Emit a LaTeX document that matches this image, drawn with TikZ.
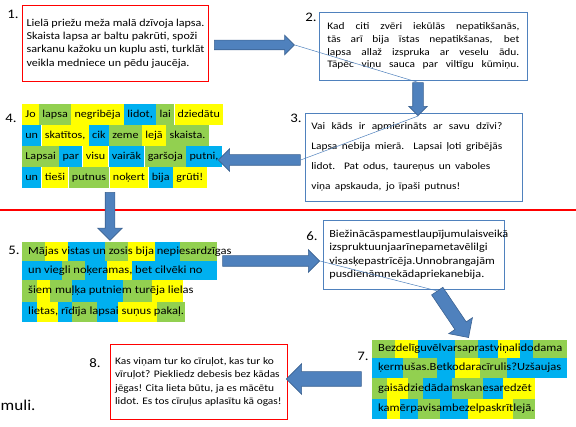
\documentclass[tikz,border=0pt]{standalone}
\usepackage{fontspec}
\setmainfont{Carlito}[FakeStretch=1.14]
\usetikzlibrary{positioning, shapes.arrows}
\definecolor{slideblue}{RGB}{79,129,189}
\definecolor{slidedark}{RGB}{60,98,145}
\definecolor{hlyellow}{RGB}{255,255,0}
\definecolor{hlgreen}{RGB}{146,208,80}
\definecolor{hlblue}{RGB}{0,176,240}
\tikzset{txtbox/.style={anchor=north west, align=left, fill=white, inner xsep=6pt, execute at begin node={\spaceskip=0pt\xspaceskip=0pt}, font=\fontsize{11}{13.3}\selectfont}}
\tikzset{redbox/.style={txtbox, draw=red, line width=1.1pt}}
\tikzset{bluebox/.style={txtbox, draw=slideblue, line width=0.7pt}}
\tikzset{blockarr/.style 2 args={single arrow, draw=slidedark, fill=slideblue, line width=0.6pt, inner xsep=0pt, inner ysep=#1, single arrow head extend=#2}}
\tikzset{thinarr/.style={draw=slideblue, line width=0.5pt}}
\tikzset{num/.style={inner sep=0pt, font=\fontsize{13}{13}\selectfont}}
\tikzset{word/.style={fill=#1, anchor=west, inner xsep=3.2pt, inner ysep=0pt, text height=7.5pt, text depth=2pt, minimum height=21.6pt, font=\fontsize{10.6}{11}\selectfont}}
\tikzset{rowtxt/.style={anchor=west, inner sep=0pt, text height=7.5pt, text depth=2pt, font=\fontsize{11}{11}\selectfont}}
\newcommand\spread[2]{\makebox[#1pt][s]{\spaceskip=0pt\xspaceskip=0pt #2}}

\begin{document}
\begin{tikzpicture}[x=1pt, y=-1pt]
	\useasboundingbox (0,0) rectangle (576,427);
	\draw[red, line width=1.2pt] (0,210) -- (576,210);

	\node[redbox, inner xsep=4pt, text width=178pt, minimum width=186, minimum height=76, font=\fontsize{10.6}{13.3}\selectfont] (b1) at (22,5)
		{Lielā priežu meža malā dzīvoja lapsa.\\ Skaista lapsa ar baltu pakrūti, spoži\\ sarkanu kažoku un kuplu asti, turklāt\\ veikla medniece un pēdu jaucēja.};
	\node[bluebox, inner xsep=8pt, text width=192pt, minimum height=68, font=\fontsize{10}{12.7}\selectfont] (b2) at (319,12)
		{\spread{192}{Kad citi zvēri iekūlās nepatikšanās,}\\ \spread{192}{tās arī bija īstas nepatikšanas, bet}\\
		 \spread{192}{lapsa allaž izspruka ar veselu ādu.}\\ \spread{192}{Tāpēc viņu sauca par viltīgu kūmiņu.}};
	\node[bluebox, text width=205pt, minimum height=88, font=\fontsize{10}{20}\selectfont] (b3) at (305,113)
		{\spread{191}{Vai kāds ir apmierināts ar savu dzīvi?}\\ \spread{191}{Lapsa nebija mierā. Lapsai ļoti gribējās}\\
		 \spread{179}{lidot. Pat odus, taureņus un vaboles}\\ \spread{149}{viņa apskauda, jo īpaši putnus!}};

	% box 4, one colour per word
	\node[word=hlyellow] (w) at (22,114.5) {Jo};
	\foreach \w/\c in {lapsa/hlgreen, negribēja/hlyellow, {lidot,}/hlblue, lai/hlgreen, dziedātu/hlyellow}
		\node[word=\c, right=0pt of w] (w) {\w};
	\node[word=hlblue] (w) at (22,135.5) {un};
	\foreach \w/\c in {{skatītos,}/hlyellow, cik/hlblue, zeme/hlgreen, lejā/hlyellow, skaista./hlgreen}
		\node[word=\c, right=0pt of w] (w) {\w};
	\node[word=hlgreen] (w) at (22,156.5) {Lapsai};
	\foreach \w/\c in {par/hlblue, visu/hlyellow, vairāk/hlblue, garšoja/hlgreen, {putni,}/hlblue}
		\node[word=\c, right=0pt of w] (w) {\w};
	\node[word=hlblue] (w) at (22,177.5) {un};
	\foreach \w/\c in {tieši/hlyellow, putnus/hlgreen, noķert/hlyellow, bija/hlblue, grūti!/hlyellow}
		\node[word=\c, right=0pt of w] (w) {\w};

	% box 5
	\foreach \xa/\xb/\c in {22/45/hlgreen, 45/68/hlyellow, 68/105/hlblue, 105/128/hlgreen, 128/155/hlyellow, 155/180/hlblue, 180/217/hlgreen}
		\fill[\c] (\xa,242) rectangle (\xb,261.3);
	\foreach \xa/\xb/\c in {22/62/hlblue, 62/85/hlgreen, 85/107/hlblue, 107/132/hlyellow, 132/217/hlblue}
		\fill[\c] (\xa,261) rectangle (\xb,280.3);
	\foreach \xa/\xb/\c in {22/37/hlgreen, 37/50/hlyellow, 50/72/hlgreen, 72/123/hlblue, 123/152/hlgreen, 152/183/hlyellow}
		\fill[\c] (\xa,280) rectangle (\xb,302.3);
	\foreach \xa/\xb/\c in {22/37/hlblue, 37/58/hlyellow, 58/72/hlblue, 72/97/hlgreen, 97/118/hlblue, 118/157/hlyellow, 157/185/hlgreen}
		\fill[\c] (\xa,302) rectangle (\xb,322);
	\node[rowtxt] (r51) at (28,251.5) {Mājas vistas un zosis bija nepiesardzīgas};
	\node[rowtxt] (r52) at (28,270.5) {un viegli noķeramas, bet cilvēki no};
	\node[rowtxt] (r53) at (28,291) {šiem muļķa putniem turēja lielas};
	\node[rowtxt] (r54) at (28,312) {lietas, rīdīja lapsai suņus pakaļ.};

	\node[bluebox, text width=169pt, minimum height=69, font=\fontsize{10.7}{13.5}\selectfont] (b6) at (323,220)
		{Biežinācāspamestlaupījumulaisveikā\\ izspruktuunjaarīnepametavēlilgi\\ visasķepastrīcēja.Unnobrangajām\\ pusdienāmnekādapriekanebija.};

	% box 7
	\foreach \xa/\xb/\c in {372/395/hlgreen, 395/418/hlyellow, 418/455/hlblue, 455/478/hlgreen, 478/498/hlblue, 498/520/hlyellow, 520/533/hlblue, 533/567/hlgreen}
		\fill[\c] (\xa,340) rectangle (\xb,358.3);
	\foreach \xa/\xb/\c in {372/403/hlblue, 403/437/hlgreen, 437/455/hlblue, 455/480/hlyellow, 480/507/hlgreen, 507/567/hlblue}
		\fill[\c] (\xa,358) rectangle (\xb,378.3);
	\foreach \xa/\xb/\c in {372/387/hlgreen, 387/408/hlyellow, 408/423/hlgreen, 423/452/hlblue, 452/483/hlgreen, 483/503/hlblue, 503/535/hlyellow}
		\fill[\c] (\xa,378) rectangle (\xb,399.3);
	\foreach \xa/\xb/\c in {372/387/hlblue, 387/400/hlyellow, 400/418/hlblue, 418/440/hlgreen, 440/468/hlblue, 468/513/hlyellow, 513/535/hlgreen}
		\fill[\c] (\xa,399) rectangle (\xb,419);
	\node[rowtxt] (r71) at (378,349) {Bezdelīguvēlvarsaprastviņalidodama};
	\node[rowtxt] (r72) at (378,368) {ķermušas.Betkodaracīrulis?Uzšaujas};
	\node[rowtxt] (r73) at (378,388.5) {gaisādziedādamskanesaredzēt};
	\node[rowtxt] (r74) at (378,409) {kamērpavisambezelpaskrītlejā.};

	\node[redbox, inner xsep=4.5pt, text width=168pt, minimum width=177, minimum height=75, font=\fontsize{10}{13.3}\selectfont] (b8) at (110,344)
		{Kas viņam tur ko cīruļot, kas tur ko\\ vīruļot? Piekliedz debesis bez kādas\\ jēgas! Cita lieta būtu, ja es mācētu\\ lidot. Es tos cīruļus aplasītu kā ogas!};

	\node[num] (n1) at (13,14) {1.};
	\node[num] (n2) at (311,17) {2.};
	\node[num] (n3) at (296,118) {3.};
	\node[num] (n4) at (11,118.5) {4.};
	\node[num] (n5) at (14,250) {5.};
	\node[num] (n6) at (312,236) {6.};
	\node[num] (n7) at (363,356) {7.};
	\node[num] (n8) at (95,363) {8.};
	\node[anchor=base west, inner sep=0pt, font=\fontsize{15}{15}\selectfont] (muli) at (0.5,411) {muli.};

	\node[blockarr={4.5pt}{5pt}, minimum height=80] (a12) at (252,45) {};
	\node[blockarr={5pt}{4pt}, minimum height=33, rotate=-90] (a23) at (418,96.5) {};
	\node[blockarr={5pt}{6pt}, minimum height=82, rotate=180] (a34) at (262,160) {};
	\node[blockarr={4.5pt}{7.5pt}, minimum height=48, rotate=-90] (a45) at (110,214) {};
	\node[blockarr={5pt}{6pt}, minimum height=97] (a56) at (268.5,261) {};
	\node[blockarr={6.5pt}{7.5pt}, minimum height=56, rotate=-56] (a67) at (451,311.5) {};
	\node[blockarr={7pt}{8pt}, minimum height=75, rotate=180] (a78) at (327.5,379) {};

	\draw[thinarr] (a12.tip) -- (a23.tail);
	\draw[thinarr] (a23.tip) -- (a34.tail);
	\draw[thinarr] (a56.tip) -- (a67.tail);
\end{tikzpicture}
\end{document}
